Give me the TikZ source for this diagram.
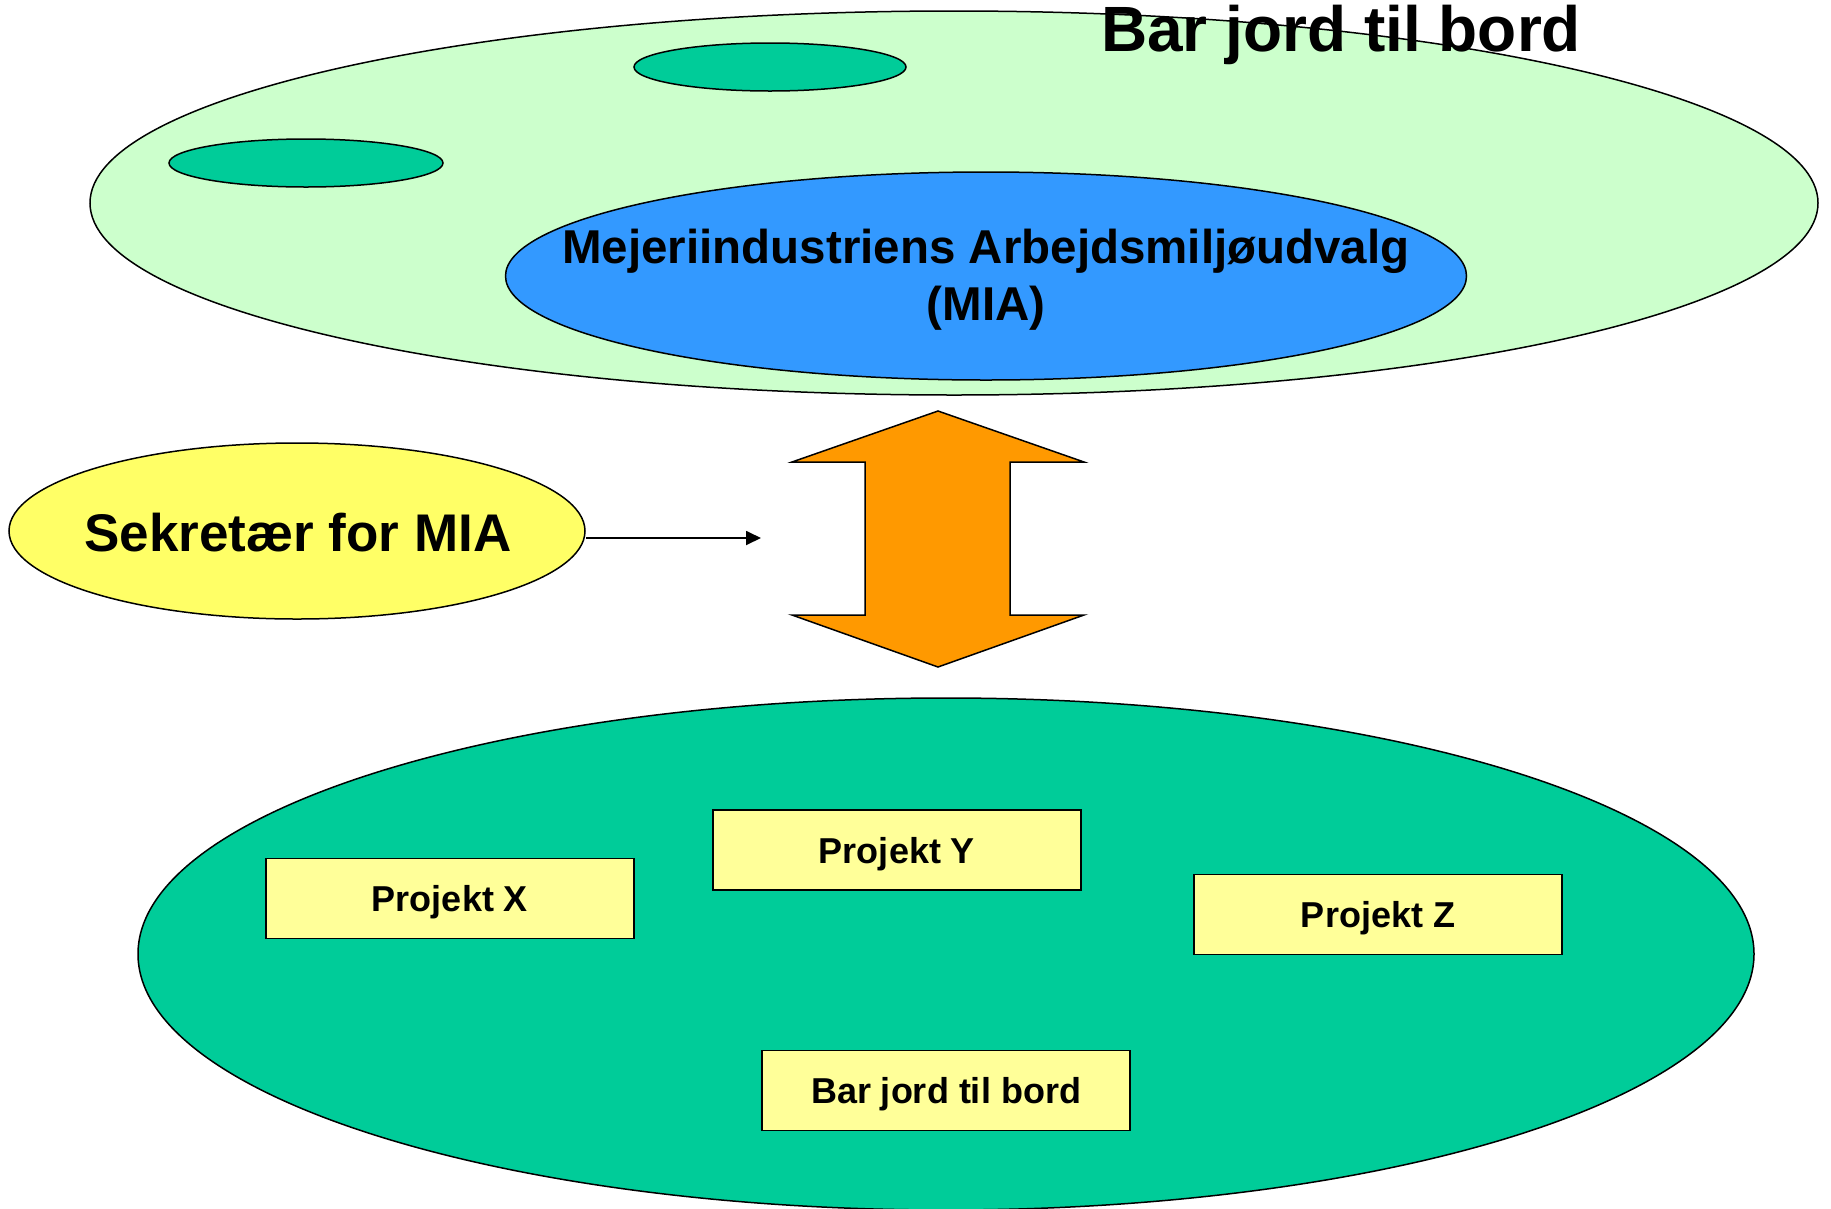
\documentclass[tikz,border=0pt]{standalone}
\usepackage{fontspec}
\setmainfont{Liberation Sans}
\usetikzlibrary{shapes.geometric,arrows.meta}
\definecolor{lightgreen}{HTML}{CCFFCC}
\definecolor{seagreen}{HTML}{00CC99}
\definecolor{miablue}{HTML}{3399FF}
\definecolor{sekyellow}{HTML}{FFFF66}
\definecolor{boxyellow}{HTML}{FFFF99}
\definecolor{arroworange}{HTML}{FF9900}
\tikzset{
  oval/.style={ellipse, draw=black, line width=1.5pt, inner sep=0pt},
  projbox/.style={rectangle, draw=black, line width=1.8pt, fill=boxyellow,
    minimum width=368pt, minimum height=80pt, inner sep=0pt,
    font=\fontsize{36}{40}\selectfont\bfseries, text depth=0pt},
  connector/.style={line width=1.8pt, -{Triangle[length=15pt,width=14pt]}}
}
\begin{document}
\begin{tikzpicture}[x=1pt,y=-1pt]
\useasboundingbox (0,0) rectangle (1831,1208);
% top area
\node[oval, fill=lightgreen, minimum width=1728pt, minimum height=384pt] (top) at (954,203) {};
\node[oval, fill=seagreen, minimum width=272pt, minimum height=48pt] (small1) at (770,67) {};
\node[oval, fill=seagreen, minimum width=274pt, minimum height=48pt] (small2) at (306,163) {};
\node[oval, fill=miablue, minimum width=961pt, minimum height=208pt] (mia) at (986,276) {};
\node[align=center, font=\fontsize{47.5}{57}\selectfont\bfseries, inner sep=0pt] (miatxt) at (986,280)
  {Mejeriindustriens Arbejdsmiljøudvalg\\(MIA)};
\node[anchor=base, inner sep=0pt, font=\fontsize{64}{70}\selectfont\bfseries] (title) at (1341,51.7) {Bar jord til bord};
% secretary
\node[oval, fill=sekyellow, minimum width=576pt, minimum height=176pt] (sek) at (297,531) {};
\node[inner sep=0pt, font=\fontsize{53}{60}\selectfont\bfseries, text depth=0pt] (sektxt) at (298,532) {Sekretær for MIA};
\coordinate (arrend) at (761,538);
\draw[connector] (arrend -| sek.east) -- (arrend);
% orange double arrow
\coordinate (tipT) at (938,411);
\coordinate (tipB) at (938,667);
\filldraw[fill=arroworange, draw=black, line width=1.5pt, line join=miter]
  (tipT) -- (1084,462) -- (1010,462) -- (1010,615) -- (1084,615) -- (tipB)
  -- (792,615) -- (865,615) -- (865,462) -- (792,462) -- cycle;
% bottom area
\node[oval, fill=seagreen, minimum width=1616pt, minimum height=512pt] (bottom) at (946,954) {};
\node[projbox] (px) at (450,898.5) {Projekt X};
\node[projbox] (py) at (897,850) {Projekt Y};
\node[projbox] (pz) at (1378,914.5) {Projekt Z};
\node[projbox] (pbar) at (946,1090.5) {Bar jord til bord};
\end{tikzpicture}
\end{document}
